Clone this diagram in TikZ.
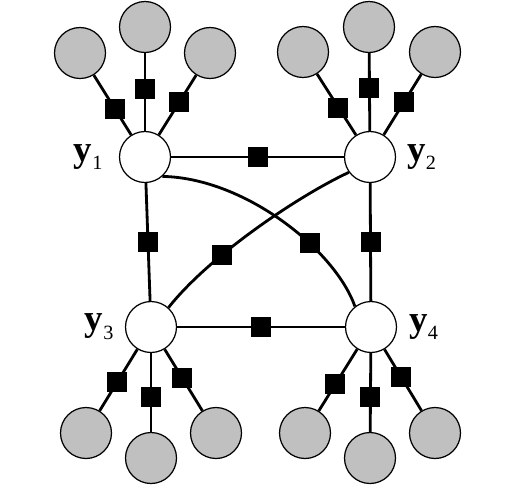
\documentclass[tikz,border=0pt]{standalone}
\usepackage{fontspec}
\setmainfont{Liberation Serif}
\usetikzlibrary{positioning}
\usepackage{xcolor}
\definecolor{leafgray}{RGB}{192,192,192}
\newcommand{\ylab}[1]{{\fontsize{21}{24}\selectfont\bfseries y}\raisebox{-5pt}{\fontsize{11.5}{13}\selectfont #1}}
\tikzset{
    var/.style={
        circle,draw,line width=.7pt,fill=white,
        minimum size=1.02cm,inner sep=0pt
    },
    obs/.style={
        var,fill=leafgray
    },
    factor/.style={
        fill=black,minimum size=.4cm,inner sep=0pt
    },
    lab/.style={
        inner sep=0pt
    },
    link/.style={
        line width=1.6pt
    }
}
\begin{document}
\begin{tikzpicture}[x=0.02cm,y=-0.02cm]
\useasboundingbox (0,0) rectangle (513,491);

% query variables
\node[var] (y1) at (145,157) {};
\node[var] (y2) at (370,157) {};
\node[var] (y3) at (151,327) {};
\node[var] (y4) at (371,327) {};

\node[lab,left=.32cm of y1] (l1) {\ylab{1}};
\node[lab,right=.22cm of y2] (l2) {\ylab{2}};
\node[lab,left=.22cm of y3] (l3) {\ylab{3}};
\node[lab,right=.24cm of y4] (l4) {\ylab{4}};

% observed variables
\node[obs] (o11) at (80,53) {};
\node[obs] (o12) at (145,27) {};
\node[obs] (o13) at (210,53) {};
\node[obs] (o21) at (303,52) {};
\node[obs] (o22) at (369,27) {};
\node[obs] (o23) at (435,52) {};
\node[obs] (o31) at (86,433) {};
\node[obs] (o32) at (151,458) {};
\node[obs] (o33) at (216,433) {};
\node[obs] (o41) at (305,433) {};
\node[obs] (o42) at (370,458) {};
\node[obs] (o43) at (435,433) {};

% unary factors
\draw[link] (y1) -- node[factor,pos=.43] (f11) {} (o11);
\draw[link] (y1) -- node[factor,pos=.54] (f12) {} (o12);
\draw[link] (y1) -- node[factor,pos=.55] (f13) {} (o13);
\draw[link] (y2) -- node[factor,pos=.45] (f21) {} (o21);
\draw[link] (y2) -- node[factor,pos=.55] (f22) {} (o22);
\draw[link] (y2) -- node[factor,pos=.54] (f23) {} (o23);
\draw[link] (y3) -- node[factor,pos=.53] (f31) {} (o31);
\draw[link] (y3) -- node[factor,pos=.56] (f32) {} (o32);
\draw[link] (y3) -- node[factor,pos=.46] (f33) {} (o33);
\draw[link] (y4) -- node[factor,pos=.57] (f41) {} (o41);
\draw[link] (y4) -- node[factor,pos=.56] (f42) {} (o42);
\draw[link] (y4) -- node[factor,pos=.45] (f43) {} (o43);

% pairwise factors
\draw[link] (y1) -- node[factor] (p12) {} (y2);
\draw[link] (y3) -- node[factor] (p34) {} (y4);
\draw[link] (y1) -- node[factor] (p13) {} (y3);
\draw[link] (y2) -- node[factor] (p24) {} (y4);
\draw[link] (y1.-48) .. controls (245,178) and (335,250) .. (y4.128)
    node[factor,pos=.64] (p14) {};
\draw[link] (y2.-144) .. controls (300,195) and (210,255) .. (y3.48)
    node[factor,pos=.67] (p23) {};

\end{tikzpicture}
\end{document}
